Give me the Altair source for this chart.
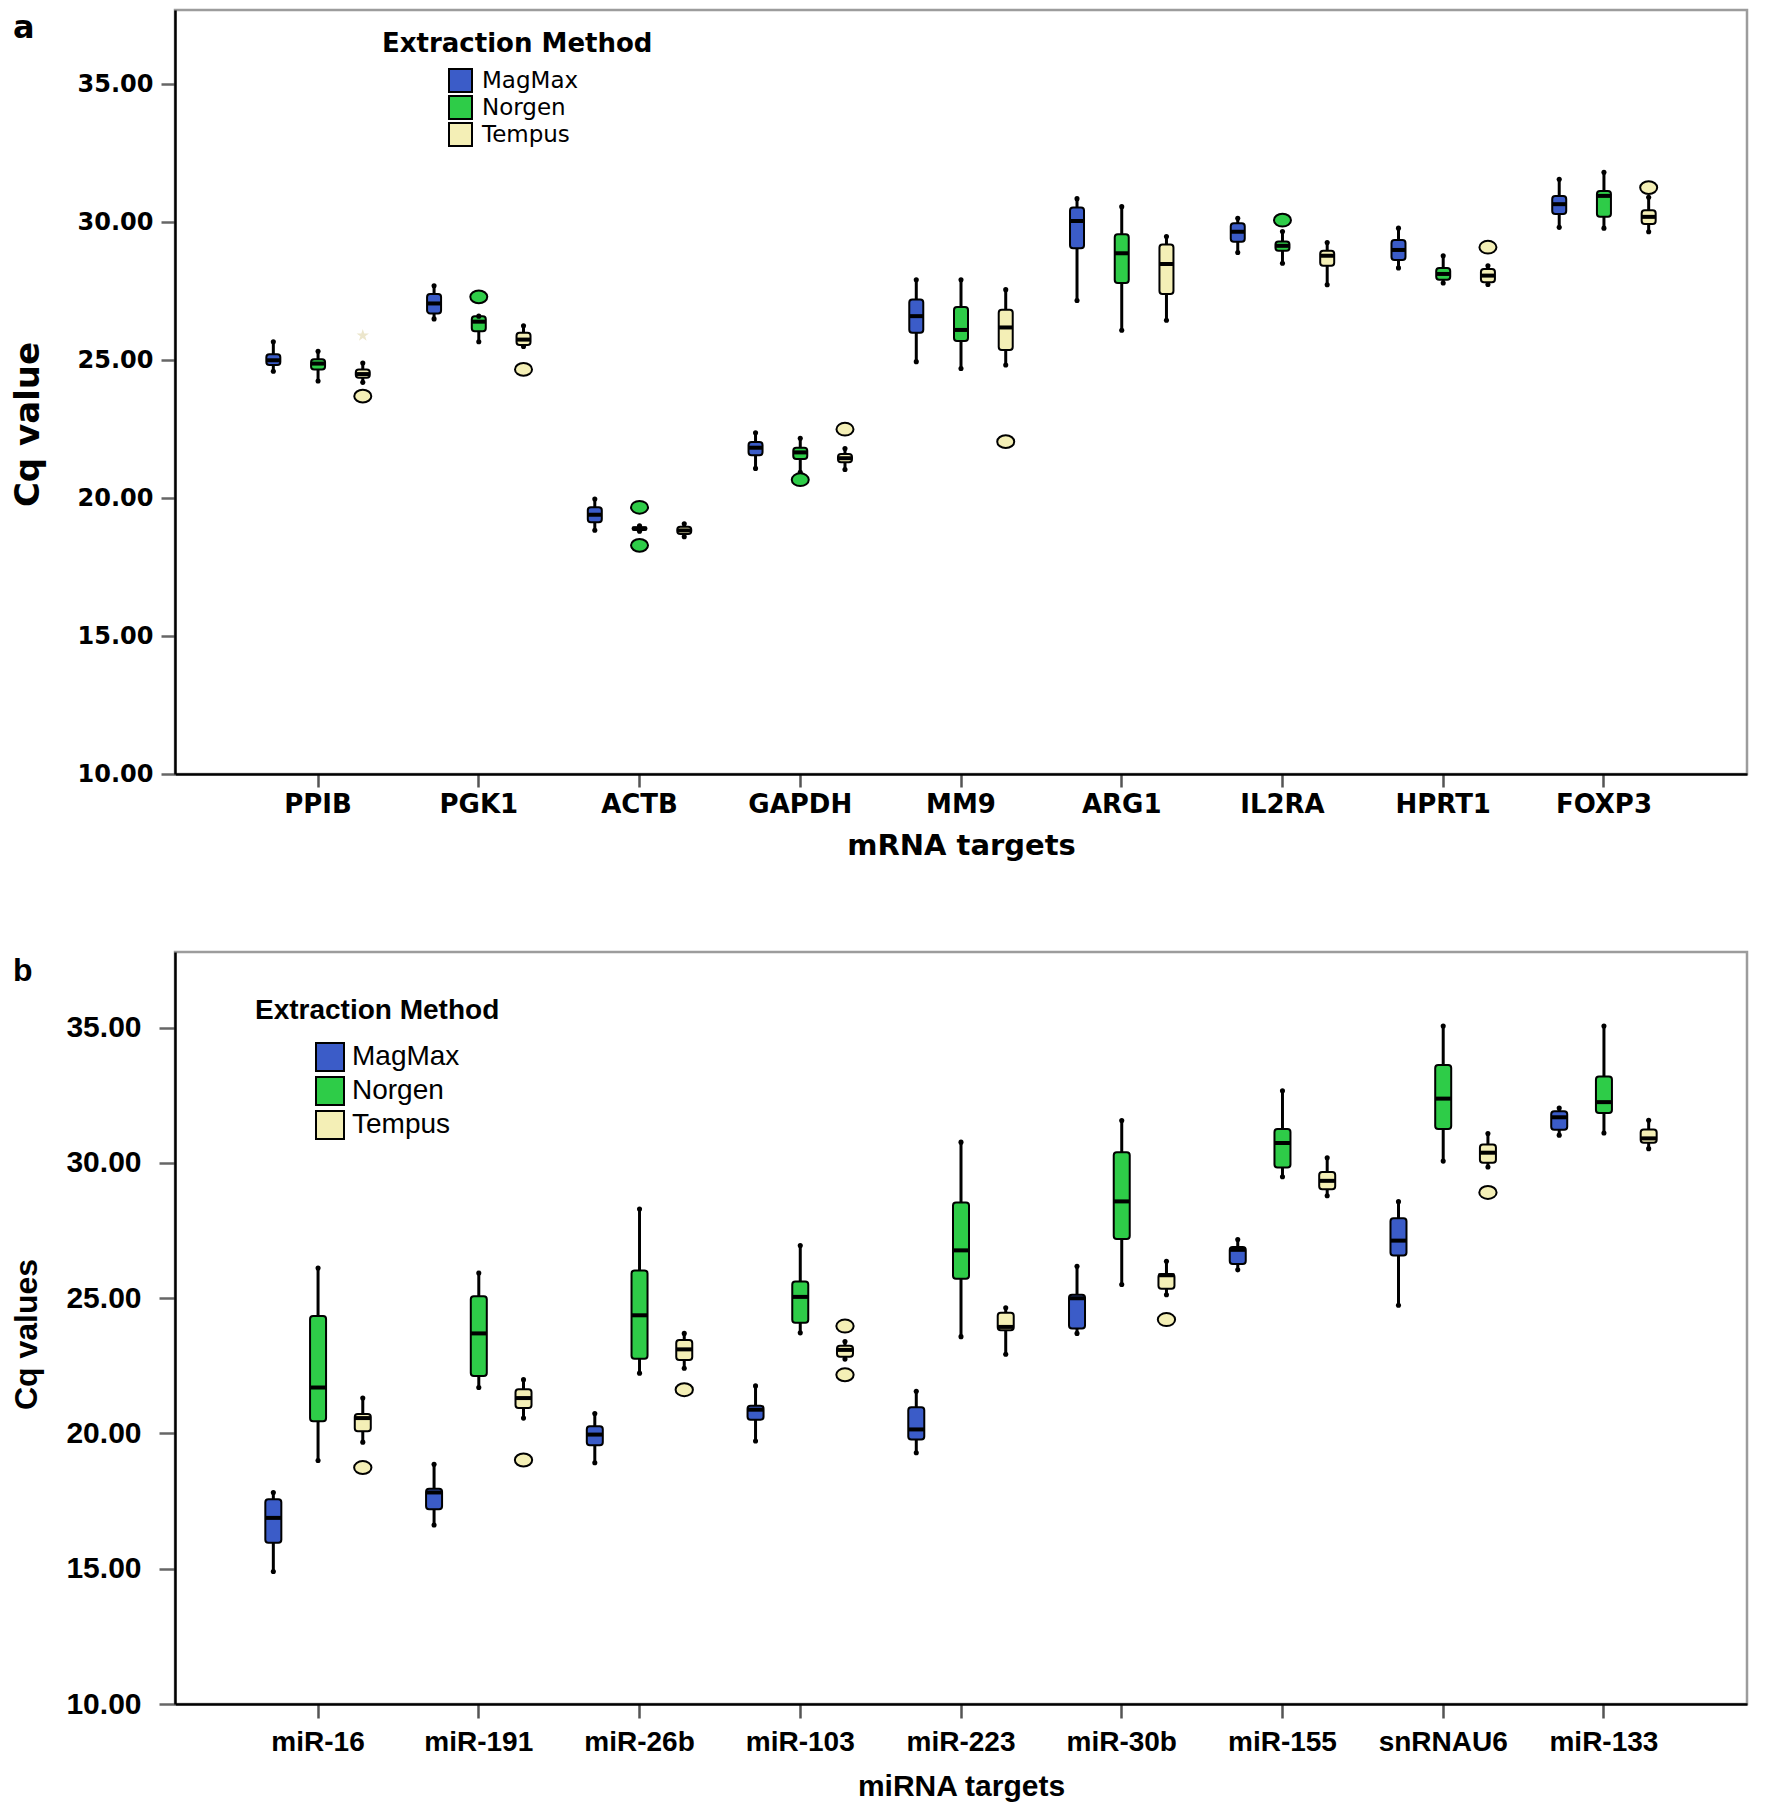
import altair as alt
import pandas as pd

methods = ["MagMax", "Norgen", "Tempus"]
method_colors = ["#3B5CC8", "#2ECC48", "#F4EFB6"]

# ---------- Panel a: mRNA targets, [min, q1, median, q3, max] ----------
mrna_targets = ["PPIB", "PGK1", "ACTB", "GAPDH", "MM9", "ARG1", "IL2RA", "HPRT1", "FOXP3"]
mrna_magmax = [
    [24.60, 24.83, 25.00, 25.22, 25.67],
    [26.50, 26.70, 27.06, 27.40, 27.70],
    [18.84, 19.13, 19.40, 19.67, 19.97],
    [21.08, 21.56, 21.83, 22.04, 22.37],
    [24.95, 26.00, 26.60, 27.20, 27.92],
    [27.17, 29.06, 30.05, 30.54, 30.86],
    [28.91, 29.30, 29.66, 29.97, 30.15],
    [28.35, 28.64, 29.00, 29.36, 29.79],
    [29.82, 30.30, 30.66, 30.96, 31.56],
]
mrna_norgen = [
    [24.25, 24.67, 24.88, 25.04, 25.33],
    [25.67, 26.05, 26.40, 26.60, 26.60],
    [18.80, 18.85, 18.90, 18.95, 19.00],
    [20.94, 21.42, 21.66, 21.83, 22.17],
    [24.70, 25.70, 26.10, 26.93, 27.92],
    [26.09, 27.80, 28.88, 29.57, 30.57],
    [28.52, 28.97, 29.15, 29.31, 29.67],
    [27.80, 27.92, 28.13, 28.35, 28.79],
    [29.79, 30.20, 30.96, 31.14, 31.82],
]
mrna_tempus = [
    [24.20, 24.37, 24.50, 24.67, 24.90],
    [25.50, 25.55, 25.75, 26.00, 26.25],
    [18.60, 18.70, 18.83, 18.96, 19.07],
    [21.04, 21.30, 21.45, 21.60, 21.80],
    [24.83, 25.37, 26.19, 26.83, 27.56],
    [26.45, 27.40, 28.49, 29.20, 29.49],
    [27.74, 28.43, 28.79, 28.97, 29.27],
    [27.75, 27.83, 28.07, 28.31, 28.43],
    [29.66, 29.94, 30.20, 30.44, 30.91],
]
mrna_out_target = ["PPIB", "PGK1", "PGK1", "ACTB", "ACTB", "GAPDH", "GAPDH", "MM9", "IL2RA", "HPRT1", "FOXP3"]
mrna_out_method = ["Tempus", "Norgen", "Tempus", "Norgen", "Norgen", "Norgen", "Tempus", "Tempus", "Norgen", "Tempus", "Tempus"]
mrna_out_value = [23.70, 27.30, 24.67, 19.67, 18.29, 20.67, 22.50, 22.05, 30.08, 29.10, 31.26]
mrna_ext_target = ["PPIB"]
mrna_ext_method = ["Tempus"]
mrna_ext_value = [25.90]

# ---------- Panel b: miRNA targets, [min, q1, median, q3, max] ----------
mirna_targets = ["miR-16", "miR-191", "miR-26b", "miR-103", "miR-223", "miR-30b", "miR-155", "snRNAU6", "miR-133"]
mirna_magmax = [
    [14.90, 15.96, 16.88, 17.57, 17.82],
    [16.62, 17.20, 17.82, 17.96, 18.86],
    [18.92, 19.57, 19.96, 20.27, 20.74],
    [19.72, 20.51, 20.88, 21.03, 21.76],
    [19.29, 19.78, 20.15, 20.97, 21.56],
    [23.70, 23.88, 25.00, 25.13, 26.18],
    [26.05, 26.27, 26.79, 26.89, 27.17],
    [24.74, 26.58, 27.13, 27.96, 28.57],
    [31.03, 31.23, 31.69, 31.91, 32.03],
]
mirna_norgen = [
    [19.00, 20.45, 21.70, 24.34, 26.12],
    [21.70, 22.13, 23.70, 25.07, 25.93],
    [22.23, 22.76, 24.37, 26.03, 28.30],
    [23.72, 24.09, 25.05, 25.62, 26.95],
    [23.58, 25.72, 26.77, 28.54, 30.77],
    [25.51, 27.19, 28.58, 30.40, 31.57],
    [29.49, 29.83, 30.74, 31.26, 32.67],
    [30.07, 31.26, 32.38, 33.62, 35.06],
    [31.11, 31.85, 32.25, 33.20, 35.06],
]
mirna_tempus = [
    [19.68, 20.08, 20.57, 20.72, 21.31],
    [20.57, 20.94, 21.31, 21.64, 21.99],
    [22.41, 22.72, 23.11, 23.46, 23.70],
    [22.75, 22.84, 23.09, 23.24, 23.40],
    [22.93, 23.82, 23.94, 24.46, 24.65],
    [25.13, 25.35, 25.85, 25.90, 26.37],
    [28.79, 29.03, 29.34, 29.67, 30.19],
    [29.85, 30.01, 30.38, 30.68, 31.09],
    [30.53, 30.75, 30.91, 31.24, 31.58],
]
mirna_out_target = ["miR-16", "miR-191", "miR-26b", "miR-103", "miR-103", "miR-30b", "snRNAU6"]
mirna_out_method = ["Tempus", "Tempus", "Tempus", "Tempus", "Tempus", "Tempus", "Tempus"]
mirna_out_value = [18.74, 19.02, 21.62, 23.97, 22.17, 24.21, 28.91]

STAR = ("M0,-1L0.224,-0.309L0.951,-0.309L0.363,0.118L0.588,0.809L0,0.382"
        "L-0.588,0.809L-0.363,0.118L-0.951,-0.309L-0.224,-0.309Z")
ELLIPSE = "M-1,0A1,0.75,0,1,1,1,0A1,0.75,0,1,1,-1,0Z"


def box_frame(targets, per_method):
    rows = []
    for m, stats in zip(methods, per_method):
        for t, s in zip(targets, stats):
            rows.append(dict(target=t, method=m, lo=s[0], q1=s[1], med=s[2], q3=s[3], hi=s[4]))
    return pd.DataFrame(rows)


def point_frame(targets, meths, values):
    return pd.DataFrame({"target": targets, "method": meths, "value": values})


def panel(targets, boxes, outliers, extremes, st):
    xaxis = alt.Axis(
        title=st["xtitle"], labelAngle=0, labelFont=st["font"], labelFontWeight="bold",
        labelFontSize=st["xlab"], labelColor="black", labelPadding=st["xlabpad"],
        tickSize=st["xtick"], tickWidth=2.5, tickColor="#555555",
        domainColor="black", domainWidth=2.5,
        titleFont=st["font"], titleFontWeight="bold", titleFontSize=st["xtitlesize"],
        titleColor="black", titlePadding=st["xtitlepad"],
    )
    yaxis = alt.Axis(
        title=st["ytitle"], values=[10, 15, 20, 25, 30, 35], format=".2f", grid=False,
        labelFont=st["font"], labelFontWeight="bold", labelFontSize=st["ylab"],
        labelColor="black", labelPadding=st["ylabpad"],
        tickSize=st["ytick"], tickWidth=2.5, tickColor="#666666",
        domainColor="black", domainWidth=2.5,
        titleFont=st["font"], titleFontWeight="bold", titleFontSize=st["ytitlesize"],
        titleColor="black", titleX=st["ytitlex"], titleY=st["ytitley"], titleAngle=270,
        titleAlign="center", titleBaseline="middle",
    )
    xenc = alt.X("target:N", sort=targets,
                 scale=alt.Scale(paddingInner=0, paddingOuter=0.39), axis=xaxis)
    xoff = alt.XOffset("method:N", sort=methods,
                       scale=alt.Scale(paddingInner=0, paddingOuter=0.297))
    yscale = alt.Scale(domain=[10, st["ytop"]], nice=False, zero=False)

    def yenc(field):
        return alt.Y(f"{field}:Q", scale=yscale, axis=yaxis)

    legend = alt.Legend(
        title="Extraction Method", orient="none", legendX=st["lx"], legendY=st["ly"],
        direction="vertical", padding=0, titleLimit=1000, labelLimit=1000,
        titleFont=st["lfont"], titleFontSize=st["ltitlesize"], titleFontWeight="bold",
        titleColor="black", titlePadding=st["ltitlepad"],
        labelFont=st["lfont"], labelFontSize=st["llabsize"], labelColor="black",
        labelOffset=st["loffset"], symbolType="square", symbolSize=st["lsym"] ** 2,
        symbolStrokeColor="black", symbolStrokeWidth=2, symbolOffset=st["lsymoff"],
        rowPadding=st["lrowpad"], clipHeight=st["lclip"],
    )
    color = alt.Color("method:N", sort=methods,
                      scale=alt.Scale(domain=methods, range=method_colors), legend=legend)
    fill = alt.Fill("method:N", sort=methods,
                    scale=alt.Scale(domain=methods, range=method_colors), legend=None)

    base = alt.Chart(boxes)
    whisk = base.mark_rule(color="black", strokeWidth=3).encode(
        x=xenc, xOffset=xoff, y=yenc("lo"), y2="hi:Q")
    caps = base.transform_fold(["lo", "hi"], as_=["end", "val"]).mark_circle(
        color="black", size=26, opacity=1).encode(x=xenc, xOffset=xoff, y=yenc("val"))
    box = base.mark_bar(size=st["boxw"], stroke="black", strokeWidth=2, cornerRadius=3).encode(
        x=xenc, xOffset=xoff, y=yenc("q1"), y2="q3:Q", color=color)
    med = base.mark_tick(color="black", thickness=4, size=st["boxw"], opacity=1).encode(
        x=xenc, xOffset=xoff, y=yenc("med"))
    outl = alt.Chart(outliers).mark_point(
        shape=ELLIPSE, filled=True, size=st["osize"], stroke="black", strokeWidth=2, opacity=1
    ).encode(x=xenc, xOffset=xoff, y=yenc("value"), fill=fill)
    layers = [whisk, box, med, caps, outl]
    if extremes is not None:
        ext = alt.Chart(extremes).mark_point(
            shape=STAR, filled=True, size=170, color="#ECE6CC", opacity=1
        ).encode(x=xenc, xOffset=xoff, y=yenc("value"))
        layers.append(ext)
    lab = alt.Chart(pd.DataFrame({"lab": [st["letter"]]})).mark_text(
        font=st["font"], fontWeight="bold", fontSize=32, align="left",
        baseline="alphabetic", color="black"
    ).encode(x=alt.value(st["letterx"]), y=alt.value(st["lettery"]), text="lab:N")
    layers.append(lab)
    return alt.layer(*layers).properties(width=st["w"], height=st["h"])


style_a = dict(
    font="DejaVu Sans", lfont="DejaVu Sans", xtitle="mRNA targets", ytitle="Cq value",
    xlab=26, xlabpad=4, xtick=13, xtitlesize=29, xtitlepad=14,
    ylab=24, ylabpad=8, ytick=14, ytitlesize=34, ytitlex=-147, ytitley=414,
    ytop=37.7, w=1572, h=764, boxw=14, osize=290,
    lx=207, ly=21, ltitlesize=26, ltitlepad=10, llabsize=23, loffset=9, lsym=23,
    lsymoff=66, lrowpad=0, lclip=27, letter="a", letterx=-162, lettery=28,
)
style_b = dict(
    font="Liberation Sans", lfont="Liberation Sans", xtitle="miRNA targets", ytitle="Cq values",
    xlab=28, xlabpad=10, xtick=14, xtitlesize=30, xtitlepad=15,
    ylab=30, ylabpad=18, ytick=16, ytitlesize=32, ytitlex=-149, ytitley=382,
    ytop=37.8, w=1572, h=752, boxw=16, osize=300,
    lx=80, ly=45, ltitlesize=28, ltitlepad=15, llabsize=28, loffset=7, lsym=28,
    lsymoff=60, lrowpad=-2, lclip=34, letter="b", letterx=-162, lettery=29,
)

panel_a = panel(
    mrna_targets,
    box_frame(mrna_targets, [mrna_magmax, mrna_norgen, mrna_tempus]),
    point_frame(mrna_out_target, mrna_out_method, mrna_out_value),
    point_frame(mrna_ext_target, mrna_ext_method, mrna_ext_value),
    style_a,
)
panel_b = panel(
    mirna_targets,
    box_frame(mirna_targets, [mirna_magmax, mirna_norgen, mirna_tempus]),
    point_frame(mirna_out_target, mirna_out_method, mirna_out_value),
    None,
    style_b,
)

chart = (
    alt.vconcat(panel_a, panel_b, spacing=88)
    .resolve_scale(x="independent", y="independent", xOffset="independent",
                   color="independent", fill="independent")
    .resolve_legend(color="independent", fill="independent")
    .resolve_axis(x="independent", y="independent")
    .properties(padding={"left": 0, "top": 0, "right": 0, "bottom": 0}, background="white")
    .configure_view(stroke="#9C9C9C", strokeWidth=2.5)
)

chart.save("out.html", embed_options={"renderer": "svg", "actions": False})
